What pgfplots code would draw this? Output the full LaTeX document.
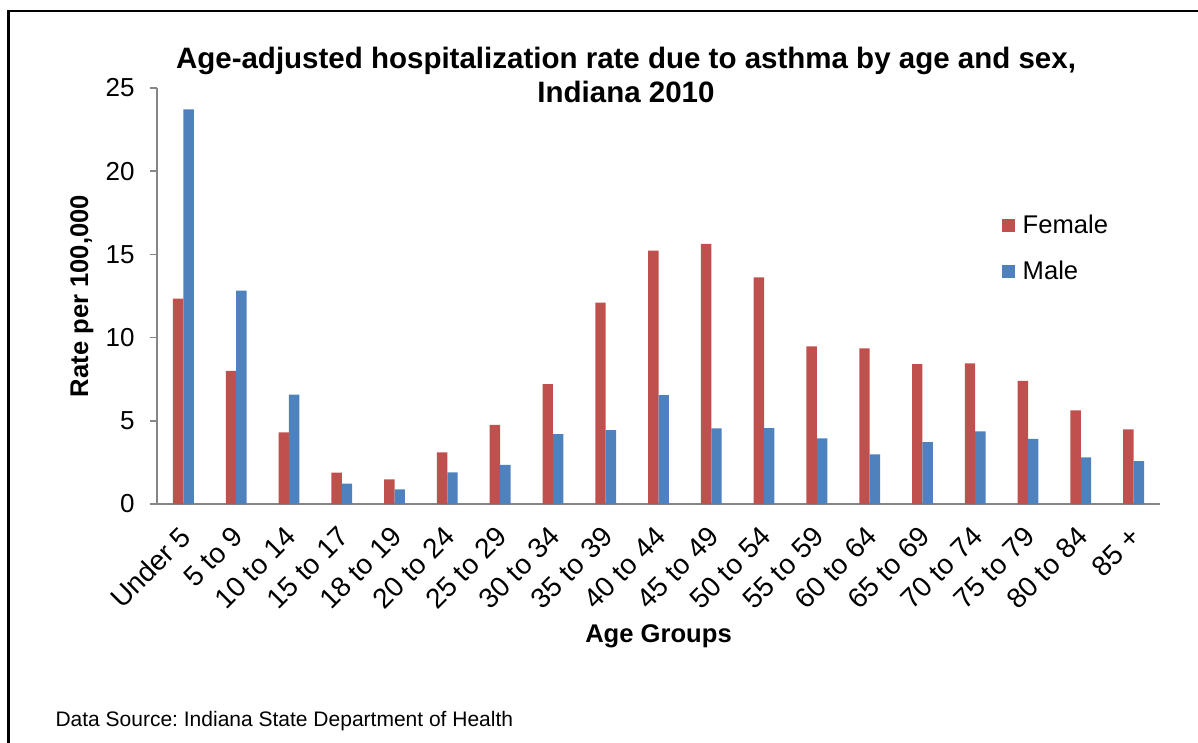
\documentclass[border=0pt]{standalone}
\usepackage{pgfplots}
\pgfplotsset{compat=1.18}
\usepackage{fontspec}
\setmainfont{Liberation Sans}
\frenchspacing
\definecolor{fem}{HTML}{C0504D}
\definecolor{mal}{HTML}{4F81BD}
\definecolor{axgray}{HTML}{868686}
\newcommand{\fs}[1]{\fontsize{#1}{#1}\selectfont}
\begin{document}
\begin{tikzpicture}
\useasboundingbox (0,0) rectangle (1198pt,-742pt);
\draw[line width=2.5pt] (8.5pt,-760pt) -- (8.5pt,-11pt) -- (1210pt,-11pt);
\begin{axis}[
    at={(157pt,-504pt)}, anchor=south west,
    scale only axis, width=1003pt, height=416pt,
    ybar=0pt, bar width=10.4pt,
    xmin=-0.5, xmax=18.5, ymin=0, ymax=25,
    ytick={0,5,...,25},
    xtick=data,
    xticklabels={Under 5,5 to 9,10 to 14,15 to 17,18 to 19,20 to 24,25 to 29,30 to 34,35 to 39,40 to 44,45 to 49,50 to 54,55 to 59,60 to 64,65 to 69,70 to 74,75 to 79,80 to 84,85 +},
    axis x line*=bottom, axis y line*=left,
    axis line style={axgray, line width=1.5pt},
    xtick style={draw=none},
    ytick style={axgray, line width=1.5pt},
    tick align=outside, major tick length=7pt,
    /pgf/number format/assume math mode=true,
    tick label style={font=\fs{26}, black},
    xticklabel style={font=\fs{28}, xshift=-5pt, yshift=-11pt, rotate=45, anchor=north east, inner sep=2pt},
    yticklabel style={xshift=-12pt},
    ylabel={\bfseries Rate per 100,000},
    ylabel style={font=\fs{25.6}, at={(axis description cs:-0.075,0.5)}, anchor=center},
    xlabel={\bfseries Age Groups},
    xlabel style={font=\fs{25.6}, yshift=-8pt},
    legend style={draw=none, fill=none, font=\fs{25.6}, at={(0.842,0.70)}, anchor=north west, row sep=22pt, column sep=6pt, inner sep=0pt},
    legend cell align=left,
    legend image code/.code={\fill[#1,draw=none] (0pt,-6.5pt) rectangle (13pt,6.5pt);},
]
\addplot[fill=fem, draw=none] coordinates {
(0,12.35) (1,8.0) (2,4.3) (3,1.88) (4,1.48) (5,3.1) (6,4.75) (7,7.2) (8,12.1) (9,15.22)
(10,15.64) (11,13.62) (12,9.48) (13,9.36) (14,8.4) (15,8.45) (16,7.4) (17,5.62) (18,4.48)};
\addplot[fill=mal, draw=none] coordinates {
(0,23.72) (1,12.82) (2,6.58) (3,1.22) (4,0.88) (5,1.9) (6,2.35) (7,4.2) (8,4.44) (9,6.54)
(10,4.54) (11,4.56) (12,3.94) (13,2.98) (14,3.72) (15,4.36) (16,3.92) (17,2.8) (18,2.58)};
\legend{Female,Male}
\end{axis}
\draw[axgray, line width=1.5pt] (150pt,-504pt) -- (157pt,-504pt);
\node[font=\fs{29.5}\bfseries, align=center, anchor=north] at (626pt,-44pt) {Age-adjusted hospitalization rate due to asthma by age and sex,\\[4pt]Indiana 2010};
\node[font=\fs{21}, anchor=base west] at (52pt,-726pt) {Data Source: Indiana State Department of Health};
\end{tikzpicture}
\end{document}
